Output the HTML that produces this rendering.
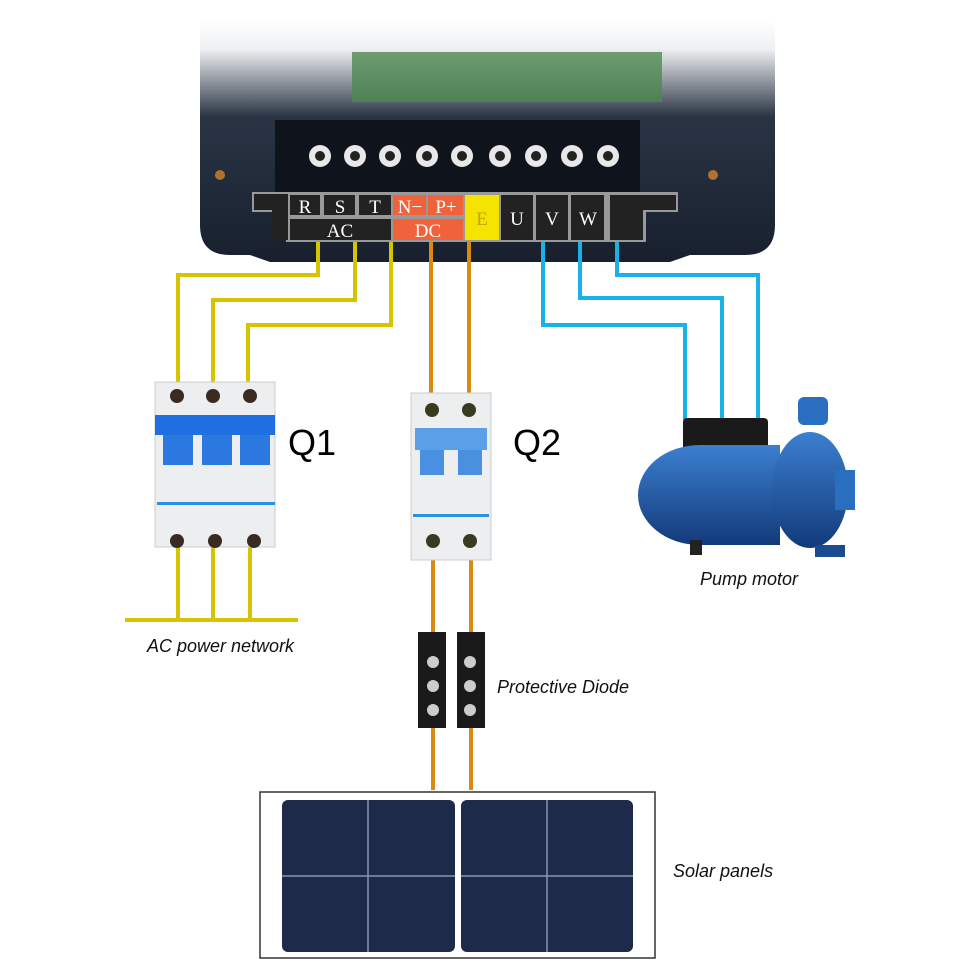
<!DOCTYPE html>
<html><head><style>body{margin:0;background:#fff}svg{display:block}text{font-family:"Liberation Sans",sans-serif}</style></head><body>
<svg width="976" height="976" viewBox="0 0 976 976" xmlns="http://www.w3.org/2000/svg">
<defs>
<linearGradient id="fade" x1="0" y1="0" x2="0" y2="1"><stop offset="0" stop-color="#fff"/><stop offset="0.12" stop-color="#eef0f2"/><stop offset="0.4" stop-color="#2a3444"/><stop offset="1" stop-color="#18202e"/></linearGradient>
<linearGradient id="pump" x1="0" y1="0" x2="0" y2="1"><stop offset="0" stop-color="#3c7fd0"/><stop offset="1" stop-color="#123a7a"/></linearGradient>
</defs>
<path d="M200 20 H775 V225 Q775 255 745 255 H690 L670 262 H270 L250 255 H230 Q200 255 200 225 Z" fill="url(#fade)"/>
<rect x="352" y="52" width="310" height="50" fill="#4d8a50" opacity="0.8"/>
<rect x="275" y="120" width="365" height="75" fill="#0f141c"/>
<g fill="#e8e8e8">
<circle cx="320" cy="156" r="11"/><circle cx="355" cy="156" r="11"/><circle cx="390" cy="156" r="11"/><circle cx="427" cy="156" r="11"/><circle cx="462" cy="156" r="11"/><circle cx="500" cy="156" r="11"/><circle cx="536" cy="156" r="11"/><circle cx="572" cy="156" r="11"/><circle cx="608" cy="156" r="11"/>
</g>
<g fill="#222"><circle cx="320" cy="156" r="5"/><circle cx="355" cy="156" r="5"/><circle cx="390" cy="156" r="5"/><circle cx="427" cy="156" r="5"/><circle cx="462" cy="156" r="5"/><circle cx="500" cy="156" r="5"/><circle cx="536" cy="156" r="5"/><circle cx="572" cy="156" r="5"/><circle cx="608" cy="156" r="5"/></g>
<circle cx="220" cy="175" r="5" fill="#b07030"/><circle cx="713" cy="175" r="5" fill="#b07030"/>
<path d="M252 192 H678 V212 H646 V242 H286 V212 H252Z" fill="#999"/>
<path d="M254 194 H288 V240 H272 V210 H254Z" fill="#222"/>
<rect x="290" y="195" width="30" height="20" fill="#222"/><rect x="324" y="195" width="31" height="20" fill="#222"/><rect x="359" y="195" width="32" height="20" fill="#222"/>
<rect x="290" y="219" width="101" height="21" fill="#222"/>
<rect x="393" y="195" width="33" height="20" fill="#f0623a"/><rect x="428" y="195" width="35" height="20" fill="#f0623a"/>
<rect x="393" y="219" width="70" height="21" fill="#f0623a"/>
<rect x="465" y="195" width="34" height="45" fill="#f5e400"/>
<rect x="501" y="195" width="32" height="45" fill="#222"/><rect x="536" y="195" width="32" height="45" fill="#222"/><rect x="571" y="195" width="33" height="45" fill="#222"/>
<path d="M610 195 H676 V210 H643 V240 H610Z" fill="#222"/>
<g style="font-family:'Liberation Serif',serif" font-size="19" fill="#fff" text-anchor="middle">
<text x="305" y="213" style="font-family:'Liberation Serif',serif">R</text><text x="340" y="213" style="font-family:'Liberation Serif',serif">S</text><text x="375" y="213" style="font-family:'Liberation Serif',serif">T</text>
<text x="340" y="237" style="font-family:'Liberation Serif',serif">AC</text><text x="410" y="213" style="font-family:'Liberation Serif',serif">N−</text><text x="446" y="213" style="font-family:'Liberation Serif',serif">P+</text><text x="428" y="237" style="font-family:'Liberation Serif',serif">DC</text>
<text x="482" y="225" fill="#b9a800" style="font-family:'Liberation Serif',serif">E</text><text x="517" y="225" style="font-family:'Liberation Serif',serif">U</text><text x="552" y="225" style="font-family:'Liberation Serif',serif">V</text><text x="588" y="225" style="font-family:'Liberation Serif',serif">W</text>
</g>
<g fill="none" stroke-width="4">
<path d="M318 242 V275 H178 V390 M355 242 V300 H213 V390 M391 242 V325 H248 V390" stroke="#d6c400"/>
<path d="M178 540 V620 M213 540 V620 M250 540 V620 M125 620 H298" stroke="#d6c400"/>
<path d="M431 242 V405 M469 242 V405 M433 545 V790 M471 545 V790" stroke="#d98a10"/>
<path d="M543 242 V325 H685 V420 M580 242 V298 H722 V420 M617 242 V275 H758 V420" stroke="#1ab0e8"/>
</g>
<rect x="155" y="382" width="120" height="165" fill="#eceef0" stroke="#ccc"/>
<rect x="155" y="415" width="120" height="20" fill="#1f6fe0"/>
<rect x="163" y="435" width="30" height="30" fill="#2a78e0"/><rect x="202" y="435" width="30" height="30" fill="#2a78e0"/><rect x="240" y="435" width="30" height="30" fill="#2a78e0"/>
<rect x="157" y="502" width="118" height="3" fill="#2a90e0"/>
<g fill="#3a2a20"><circle cx="177" cy="396" r="7"/><circle cx="213" cy="396" r="7"/><circle cx="250" cy="396" r="7"/><circle cx="177" cy="541" r="7"/><circle cx="215" cy="541" r="7"/><circle cx="254" cy="541" r="7"/></g>
<rect x="411" y="393" width="80" height="167" fill="#eceef0" stroke="#ccc"/>
<rect x="415" y="428" width="72" height="22" fill="#5aa0e8"/>
<rect x="420" y="450" width="24" height="25" fill="#4a90e0"/><rect x="458" y="450" width="24" height="25" fill="#4a90e0"/>
<rect x="413" y="514" width="76" height="3" fill="#2a90e0"/>
<g fill="#3a3a20"><circle cx="432" cy="410" r="7"/><circle cx="469" cy="410" r="7"/><circle cx="433" cy="541" r="7"/><circle cx="470" cy="541" r="7"/></g>
<rect x="418" y="632" width="28" height="96" fill="#1a1a1a"/><rect x="457" y="632" width="28" height="96" fill="#1a1a1a"/>
<g fill="#ccc"><circle cx="433" cy="662" r="6"/><circle cx="433" cy="686" r="6"/><circle cx="433" cy="710" r="6"/><circle cx="470" cy="662" r="6"/><circle cx="470" cy="686" r="6"/><circle cx="470" cy="710" r="6"/></g>
<rect x="683" y="418" width="85" height="35" rx="4" fill="#1a1a1a"/>
<ellipse cx="700" cy="495" rx="62" ry="50" fill="url(#pump)"/>
<rect x="700" y="445" width="80" height="100" fill="url(#pump)"/>
<ellipse cx="810" cy="490" rx="38" ry="58" fill="url(#pump)"/>
<rect x="798" y="397" width="30" height="28" rx="6" fill="#2a6ec0"/>
<rect x="835" y="470" width="20" height="40" fill="#2a6ec0"/>
<rect x="690" y="540" width="12" height="15" fill="#222"/><rect x="815" y="545" width="30" height="12" fill="#1a4a90"/>
<rect x="260" y="792" width="395" height="166" fill="#fff" stroke="#333" stroke-width="1.5"/>
<rect x="282" y="800" width="173" height="152" rx="6" fill="#1d2a4a"/>
<rect x="461" y="800" width="172" height="152" rx="6" fill="#1d2a4a"/>
<g stroke="#8894b0" stroke-width="1.5"><path d="M368 800 V952 M282 876 H455 M547 800 V952 M461 876 H633"/></g>
<text x="288" y="455" font-size="36">Q1</text>
<text x="513" y="455" font-size="36">Q2</text>
<g font-style="italic" font-size="18" fill="#111">
<text x="700" y="585">Pump motor</text>
<text x="147" y="652">AC power network</text>
<text x="497" y="693">Protective Diode</text>
<text x="673" y="877">Solar panels</text>
</g>
</svg>
</body></html>
